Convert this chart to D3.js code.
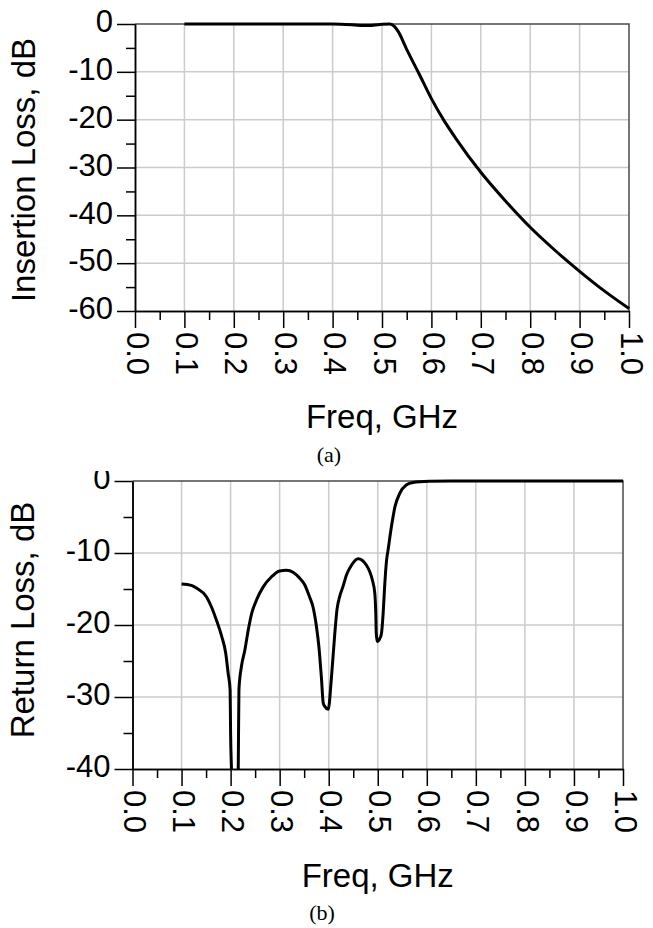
<!DOCTYPE html>
<html lang="en">
<head>
<meta charset="UTF-8">
<title>Filter response</title>
<script src="https://d3js.org/d3.v7.min.js"></script>
<style>
  body { margin: 0; background: #fff; }
  svg { display: block; }
  .lbl { font-family: "Liberation Sans", Arial, sans-serif; fill: #000; }
  .cap { font-family: "Liberation Serif", "Times New Roman", serif; fill: #000; }
</style>
</head>
<body>
<div id="chart"></div>
<script>
// frequency axis (GHz)
const freqTicks = [0.0, 0.1, 0.2, 0.3, 0.4, 0.5, 0.6, 0.7, 0.8, 0.9, 1.0];
const freqLabels = ["0.0", "0.1", "0.2", "0.3", "0.4", "0.5", "0.6", "0.7", "0.8", "0.9", "1.0"];

// (a) insertion loss
const ilTicks = [0, -10, -20, -30, -40, -50, -60];
const ilFreq = [0.1, 0.2, 0.3, 0.4, 0.445, 0.46, 0.475, 0.486, 0.5, 0.516, 0.525, 0.533, 0.55, 0.575,
  0.6, 0.625, 0.65, 0.7, 0.75, 0.8, 0.85, 0.9, 0.95, 1.0];
const ilDb = [0, 0, 0, 0, -0.2, -0.3, -0.3, -0.2, -0.05, 0, -0.5, -1.6, -5.3, -10.4,
  -15.6, -20.1, -24.0, -31.0, -37.0, -42.5, -47.3, -51.7, -55.8, -59.5];

// (b) return loss
const rlFreq = [0.1, 0.12, 0.131, 0.151, 0.161, 0.171, 0.182, 0.19, 0.195, 0.199, 0.2, 0.202, 0.208,
  0.2155, 0.217, 0.222, 0.229, 0.236, 0.243, 0.253, 0.2665, 0.2835, 0.3, 0.314, 0.328, 0.341, 0.351,
  0.361, 0.368, 0.375, 0.38, 0.385, 0.389, 0.392, 0.399, 0.4057, 0.4124, 0.417, 0.4226, 0.4294,
  0.436, 0.4464, 0.46, 0.477, 0.4837, 0.489, 0.494, 0.496, 0.497, 0.499, 0.504, 0.5075, 0.511,
  0.514, 0.518, 0.521, 0.528, 0.535, 0.545, 0.558, 0.572, 0.606, 0.65, 1.0];
const rlDb = [-14.3, -14.5, -14.9, -16.1, -17.5, -19.3, -21.6, -23.9, -26.7, -29.0, -35, -40.5, -55,
  -40.5, -29.0, -25.8, -23.5, -20.7, -18.4, -16.5, -14.7, -13.3, -12.5, -12.4, -12.7, -13.5, -14.4,
  -16.1, -17.5, -20.2, -23.0, -27.2, -30.9, -31.3, -31.7, -27.2, -21.2, -17.8, -16.0, -14.6,
  -13.1, -11.7, -10.8, -11.7, -12.6, -13.75, -15.6, -18.4, -21.2, -22.3, -21.9, -21.2, -18.4,
  -14.7, -11.0, -9.6, -6.3, -3.6, -1.7, -0.56, -0.2, -0.05, 0, 0];
const rlTicks = [0, -10, -20, -30, -40];

const svg = d3.select("#chart").append("svg")
  .attr("width", 653)
  .attr("height", 928);

function drawPanel(p) {
  const g = svg.append("g");
  if (p.clipTop != null) {
    const id = "panelclip" + p.id;
    svg.append("clipPath").attr("id", id)
      .append("rect").attr("x", 0).attr("y", p.clipTop).attr("width", 653).attr("height", 928 - p.clipTop);
    g.attr("clip-path", `url(#${id})`);
  }

  const x = d3.scaleLinear().domain([0, 1]).range([p.left, p.right]);
  const y = d3.scaleLinear().domain([p.yTicks[p.yTicks.length - 1], 0]).range([p.bottom, p.top]);
  const minorY = d3.range(p.yTicks[p.yTicks.length - 1] + 5, 0, 10);
  const minorX = d3.range(0.05, 1, 0.1);

  // grid
  g.append("g").selectAll("line").data(freqTicks.slice(1, -1)).join("line")
    .attr("x1", d => x(d)).attr("x2", d => x(d))
    .attr("y1", p.top).attr("y2", p.bottom)
    .attr("stroke", "#cbcbcb").attr("stroke-width", 1.5);
  g.append("g").selectAll("line").data(p.yTicks.slice(1, -1)).join("line")
    .attr("x1", p.left).attr("x2", p.right)
    .attr("y1", d => y(d)).attr("y2", d => y(d))
    .attr("stroke", "#cbcbcb").attr("stroke-width", 1.5);

  // top and right frame
  g.append("path")
    .attr("d", `M${p.left},${p.top}H${p.right}V${p.bottom}`)
    .attr("fill", "none").attr("stroke", "#4a4a4a").attr("stroke-width", 1.5);

  // curve
  const clipId = "plotclip" + p.id;
  svg.append("clipPath").attr("id", clipId)
    .append("rect").attr("x", p.left).attr("y", p.top - 3)
    .attr("width", p.right - p.left + 3).attr("height", p.bottom - p.top + 3);
  const pts = p.freq.map((f, i) => [f, p.db[i]]);
  g.append("g").attr("clip-path", `url(#${clipId})`)
    .append("path")
    .datum(pts)
    .attr("fill", "none")
    .attr("stroke", "#000")
    .attr("stroke-width", 3)
    .attr("stroke-linejoin", "round")
    .attr("d", d3.line().x(d => x(d[0])).y(d => y(d[1])).curve(d3.curveMonotoneX));

  // axes
  const yAxis = g.append("g").attr("transform", `translate(${p.left},0)`)
    .call(d3.axisLeft(y).tickValues(p.yTicks).tickSize(18).tickSizeOuter(0).tickPadding(4)
      .tickFormat(d => String(d)));
  g.append("g").attr("transform", `translate(${p.left},0)`)
    .call(d3.axisLeft(y).tickValues(minorY).tickSize(9).tickSizeOuter(0).tickFormat(""));
  g.append("g").attr("transform", `translate(0,${p.bottom})`)
    .call(d3.axisBottom(x).tickValues(freqTicks).tickSize(17).tickSizeOuter(0).tickFormat(""));
  g.append("g").attr("transform", `translate(0,${p.bottom})`)
    .call(d3.axisBottom(x).tickValues(minorX).tickSize(9).tickSizeOuter(0).tickFormat(""));
  g.selectAll(".domain, .tick line").attr("stroke", "#000").attr("stroke-width", 1.5);

  yAxis.selectAll("text")
    .attr("class", "lbl")
    .attr("font-size", 31)
    .attr("dy", "0.25em")
    .attr("fill", "#000");

  // rotated frequency labels
  g.append("g").selectAll("text").data(freqTicks).join("text")
    .attr("class", "lbl")
    .attr("font-size", 31)
    .attr("transform", d => `translate(${x(d)},${p.bottom + 21}) rotate(90)`)
    .attr("dy", "0.27em")
    .text((d, i) => freqLabels[i]);

  // titles
  g.append("text").attr("class", "lbl")
    .attr("font-size", 33)
    .attr("text-anchor", "middle")
    .attr("x", (p.left + p.right) / 2)
    .attr("y", p.xTitleY)
    .text("Freq, GHz");
  g.append("text").attr("class", "lbl")
    .attr("font-size", 33)
    .attr("text-anchor", "middle")
    .attr("transform", `translate(${p.yTitleX},${p.yTitleY}) rotate(-90)`)
    .text(p.yTitle);
  g.append("text").attr("class", "cap")
    .attr("font-size", 22)
    .attr("text-anchor", "middle")
    .attr("x", p.capX)
    .attr("y", p.capY)
    .text(p.caption);
}

drawPanel({
  id: "a", left: 135, right: 629, top: 24, bottom: 311,
  yTicks: ilTicks, freq: ilFreq, db: ilDb,
  xTitleY: 428, yTitle: "Insertion Loss, dB", yTitleX: 35, yTitleY: 170,
  caption: "(a)", capX: 329, capY: 462
});

drawPanel({
  id: "b", left: 132.5, right: 623, top: 481, bottom: 769, clipTop: 471,
  yTicks: rlTicks, freq: rlFreq, db: rlDb,
  xTitleY: 887, yTitle: "Return Loss, dB", yTitleX: 34, yTitleY: 620,
  caption: "(b)", capX: 322, capY: 920
});
</script>
</body>
</html>
